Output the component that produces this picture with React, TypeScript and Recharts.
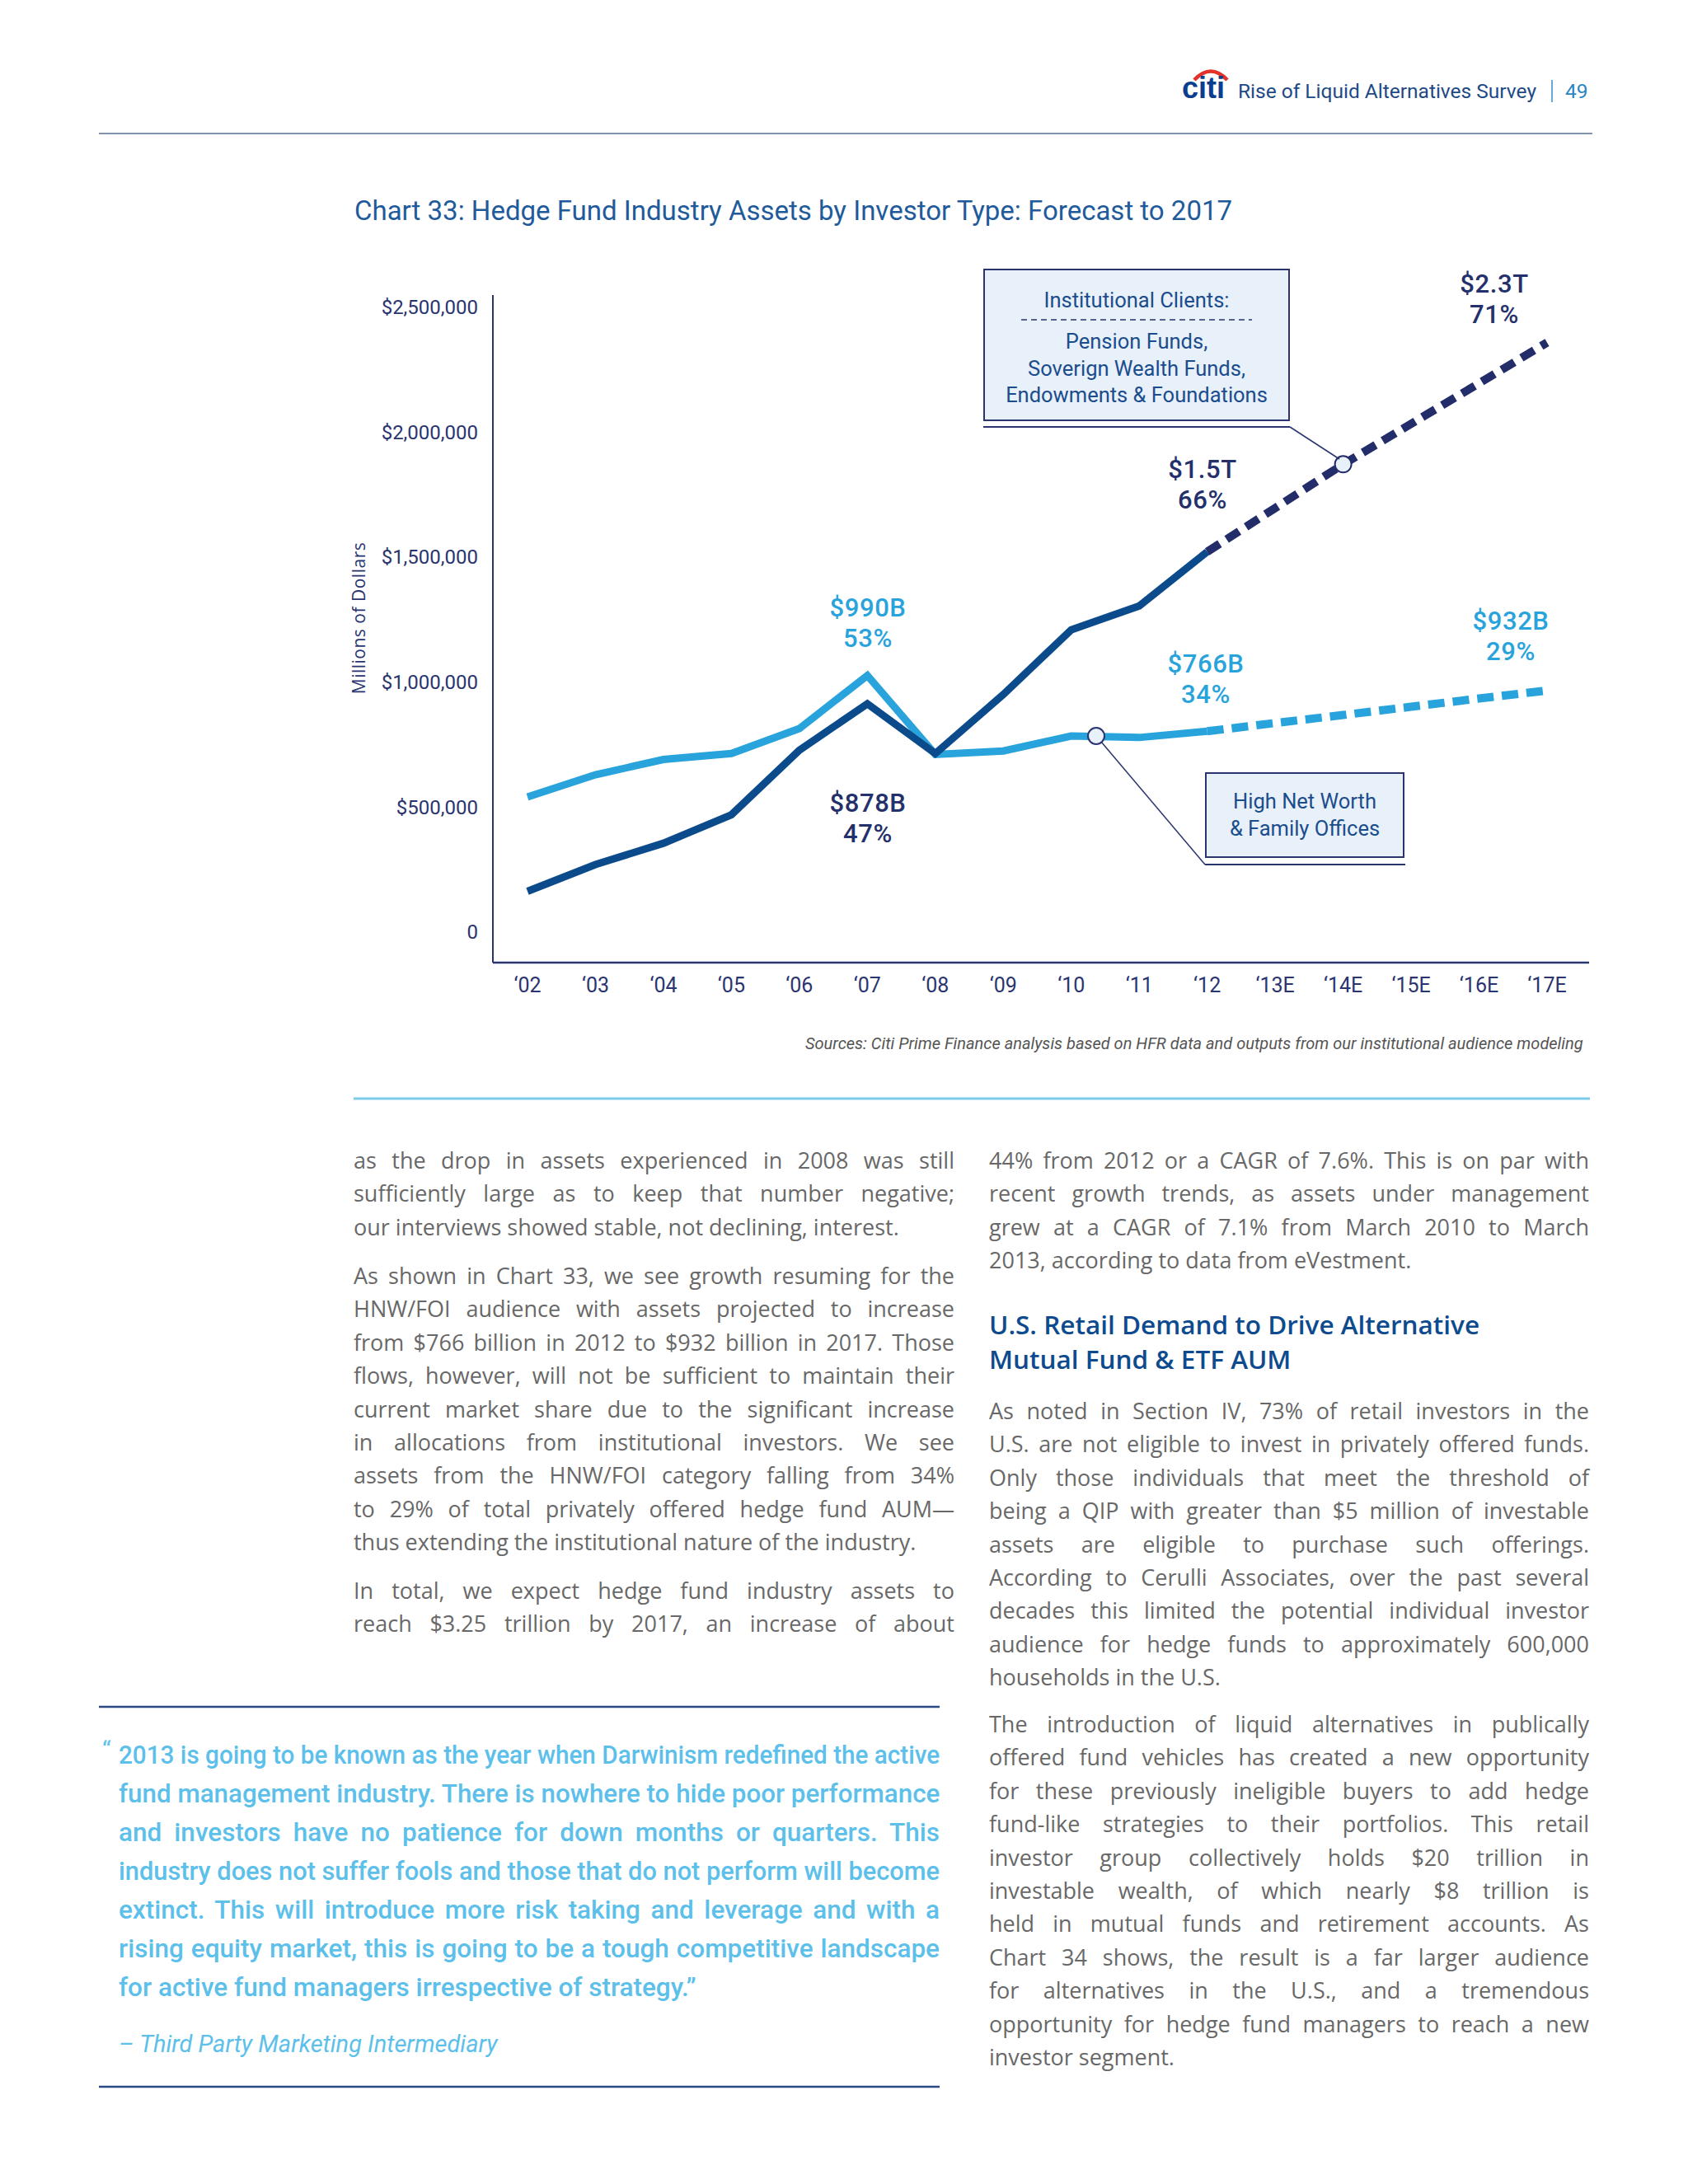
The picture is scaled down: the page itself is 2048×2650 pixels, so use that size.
import React, { useLayoutEffect, useRef } from "react";
import { LineChart, Line, XAxis, YAxis, ReferenceDot } from "recharts";

// chart data
const years = ["‘02", "‘03", "‘04", "‘05", "‘06", "‘07", "‘08", "‘09", "‘10", "‘11", "‘12", "‘13E", "‘14E", "‘15E", "‘16E", "‘17E"];
const institutional = [162500, 270000, 355000, 469000, 727000, 913000, 714000, 950000, 1209000, 1304000, 1521000];
const institutionalForecast = [1521000, 1696000, 1871000, 2033000, 2195000, 2358000];
const hnwFamily = [540000, 629000, 690000, 714000, 814000, 1026000, 710000, 724000, 784000, 778000, 803000];
const hnwForecast = [803000, 836000, 868000, 901000, 934000, 966000];
const yTicks = [0, 500000, 1000000, 1500000, 2000000, 2500000];
const lastActual = institutional.length - 1;

const data = years.map((year, i) => ({
  year,
  inst: i <= lastActual ? institutional[i] : null,
  instF: i >= lastActual ? institutionalForecast[i - lastActual] : null,
  hnw: i <= lastActual ? hnwFamily[i] : null,
  hnwF: i >= lastActual ? hnwForecast[i - lastActual] : null,
}));

const NAVY = "#24306b";
const AXIS = "#2a3570";
const DARK_LINE = "#0b4b8c";
const DASH_DARK = "#222d6a";
const LIGHT = "#29a3dc";
const BODY = "#686868";
const QUOTE = "#5cc0ea";
const FONT = "Roboto, 'Noto Sans', sans-serif";
const WIDE = "'Open Sans', 'Noto Sans', sans-serif";

// body copy, line by line as set in the page
const leftCol = [
  { y: 1408, lines: [
    "as the drop in assets experienced in 2008 was still",
    "sufficiently large as to keep that number negative;",
    "our interviews showed stable, not declining, interest.",
  ], lastJustified: false },
  { y: 1548, lines: [
    "As shown in Chart 33, we see growth resuming for the",
    "HNW/FOI audience with assets projected to increase",
    "from $766 billion in 2012 to $932 billion in 2017. Those",
    "flows, however, will not be sufficient to maintain their",
    "current market share due to the significant increase",
    "in allocations from institutional investors. We see",
    "assets from the HNW/FOI category falling from 34%",
    "to 29% of total privately offered hedge fund AUM—",
    "thus extending the institutional nature of the industry.",
  ], lastJustified: false },
  { y: 1930, lines: [
    "In total, we expect hedge fund industry assets to",
    "reach $3.25 trillion by 2017, an increase of about",
  ], lastJustified: true },
];

const rightCol = [
  { y: 1408, lines: [
    "44% from 2012 or a CAGR of 7.6%. This is on par with",
    "recent growth trends, as assets under management",
    "grew at a CAGR of 7.1% from March 2010 to March",
    "2013, according to data from eVestment.",
  ], lastJustified: false },
  { y: 1712, lines: [
    "As noted in Section IV, 73% of retail investors in the",
    "U.S. are not eligible to invest in privately offered funds.",
    "Only those individuals that meet the threshold of",
    "being a QIP with greater than $5 million of investable",
    "assets are eligible to purchase such offerings.",
    "According to Cerulli Associates, over the past several",
    "decades this limited the potential individual investor",
    "audience for hedge funds to approximately 600,000",
    "households in the U.S.",
  ], lastJustified: false },
  { y: 2092, lines: [
    "The introduction of liquid alternatives in publically",
    "offered fund vehicles has created a new opportunity",
    "for these previously ineligible buyers to add hedge",
    "fund-like strategies to their portfolios. This retail",
    "investor group collectively holds $20 trillion in",
    "investable wealth, of which nearly $8 trillion is",
    "held in mutual funds and retirement accounts. As",
    "Chart 34 shows, the result is a far larger audience",
    "for alternatives in the U.S., and a tremendous",
    "opportunity for hedge fund managers to reach a new",
    "investor segment.",
  ], lastJustified: false },
];

const heading = ["U.S. Retail Demand to Drive Alternative", "Mutual Fund & ETF AUM"];

const quoteLines = [
  "2013 is going to be known as the year when Darwinism redefined the active",
  "fund management industry. There is nowhere to hide poor performance",
  "and investors have no patience for down months or quarters. This",
  "industry does not suffer fools and those that do not perform will become",
  "extinct. This will introduce more risk taking and leverage and with a",
  "rising equity market, this is going to be a tough competitive landscape",
  "for active fund managers irrespective of strategy.”",
];

function TextLine({ text, left, top, width, justify, style }: any) {
  const ref = useRef<HTMLDivElement>(null);
  useLayoutEffect(() => {
    const el = ref.current;
    if (!el) return;
    const natural = el.scrollWidth;
    if (natural > width + 0.5) {
      el.style.textAlignLast = "left";
      el.style.textAlign = "left";
      el.style.width = natural + "px";
      el.style.transform = `scaleX(${width / natural})`;
    }
  }, [width]);
  return (
    <div
      ref={ref}
      style={{
        position: "absolute",
        left,
        top,
        width,
        whiteSpace: "nowrap",
        textAlign: justify ? "justify" : "left",
        textAlignLast: justify ? "justify" : "left",
        transformOrigin: "0 0",
        ...style,
      }}
    >
      {text}
    </div>
  );
}

function Column({ paras, left, width }: any) {
  const out: any[] = [];
  paras.forEach((p: any, pi: number) => {
    p.lines.forEach((t: string, li: number) => {
      const last = li === p.lines.length - 1;
      out.push(
        <TextLine
          key={pi + "-" + li}
          text={t}
          left={left}
          top={p.y + li * 40.4 - 20}
          width={width}
          justify={!last || p.lastJustified}
          style={{ fontFamily: WIDE, fontSize: 27, lineHeight: "40px", color: BODY }}
        />
      );
    });
  });
  return <>{out}</>;
}

// two-line value note: amount over share; y is the centre of the first line
function Note({ x, y, value, share, color }: any) {
  return (
    <div
      style={{
        position: "absolute",
        left: x - 100,
        top: y - 18.5,
        width: 200,
        textAlign: "center",
        fontFamily: FONT,
        fontWeight: 500,
        fontSize: 31,
        letterSpacing: 0.6,
        lineHeight: "37px",
        color,
      }}
    >
      {value}
      <br />
      {share}
    </div>
  );
}

function Callout({ left, top, width, height, children }: any) {
  return (
    <div
      style={{
        position: "absolute",
        left,
        top,
        width,
        height,
        boxSizing: "border-box",
        border: `2px solid ${AXIS}`,
        background: "#e8f0fa",
        fontFamily: FONT,
        fontSize: 25.5,
        color: "#1b4d8c",
        textAlign: "center",
      }}
    >
      {children}
    </div>
  );
}

function App() {
  return (
    <div style={{ position: "absolute", left: 0, top: 0, width: 2048, height: 2650, background: "#ffffff", overflow: "hidden" }}>
      {/* header */}
      <svg style={{ position: "absolute", left: 0, top: 0 }} width={2048} height={200}>
        <path d="M1449 97 Q1469 76 1489 97" fill="none" stroke="#e2332b" strokeWidth={4.5} />
        <text x={1434} y={119} fontFamily="'Liberation Sans', Arial, sans-serif" fontWeight={700} fontSize={36} fill="#0b3e8f">citi</text>
        <text x={1502} y={119} fontFamily={FONT} fontSize={24.5} fill="#1d4a86">Rise of Liquid Alternatives Survey</text>
        <line x1={1883} y1={97} x2={1883} y2={124} stroke="#3a8cc8" strokeWidth={1.5} />
        <text x={1899} y={119} fontFamily={FONT} fontSize={24.5} fill="#2a86c3">49</text>
        <line x1={120} y1={162} x2={1932} y2={162} stroke="#7f93ad" strokeWidth={2} />
      </svg>

      {/* chart title */}
      <div style={{ position: "absolute", left: 430, top: 236, fontFamily: FONT, fontSize: 33, color: "#1f5b9b", whiteSpace: "nowrap" }}>
        Chart 33: Hedge Fund Industry Assets by Investor Type: Forecast to 2017
      </div>

      {/* chart */}
      <div style={{ position: "absolute", left: 400, top: 300, width: 1560, height: 960 }}>
        <LineChart width={1560} height={960} data={data} margin={{ top: 58, right: 32, bottom: 0, left: 0 }}>
          <XAxis
            dataKey="year"
            padding={{ left: 42, right: 51 }}
            axisLine={{ stroke: AXIS, strokeWidth: 2.5 }}
            tickLine={false}
            tickMargin={12}
            interval={0}
            height={92}
            tick={{ fill: AXIS, fontSize: 25, fontFamily: FONT }}
          />
          <YAxis
            type="number"
            domain={[-122500, 2548000]}
            ticks={yTicks}
            allowDataOverflow
            width={198}
            axisLine={{ stroke: AXIS, strokeWidth: 2 }}
            tickLine={false}
            tickMargin={12}
            tick={{ fill: AXIS, fontSize: 24, fontFamily: FONT }}
            tickFormatter={(v: number) => (v === 0 ? "0" : "$" + v.toLocaleString("en-US"))}
          />
          <Line dataKey="hnw" stroke={LIGHT} strokeWidth={9} dot={false} activeDot={false} isAnimationActive={false} />
          <Line dataKey="hnwF" stroke={LIGHT} strokeWidth={10} strokeDasharray="20 10" dot={false} activeDot={false} isAnimationActive={false} />
          <Line dataKey="inst" stroke={DARK_LINE} strokeWidth={9} dot={false} activeDot={false} isAnimationActive={false} />
          <Line dataKey="instF" stroke={DASH_DARK} strokeWidth={10} strokeDasharray="18 10" dot={false} activeDot={false} isAnimationActive={false} />
          <ReferenceDot x="‘14E" y={institutionalForecast[2]} r={10} fill="#e8f0fa" stroke={DASH_DARK} strokeWidth={2} />
        </LineChart>
      </div>

      {/* axis title, leader lines, markers */}
      <svg style={{ position: "absolute", left: 0, top: 0 }} width={2048} height={1400}>
        <text
          x={443}
          y={750}
          transform="rotate(-90 443 750)"
          textAnchor="middle"
          fontFamily={WIDE}
          fontSize={21}
          letterSpacing={0.5}
          fill={AXIS}
        >
          Millions of Dollars
        </text>
        <line x1={1193} y1={518} x2={1565} y2={518} stroke={AXIS} strokeWidth={2} />
        <line x1={1565} y1={518} x2={1625} y2={557} stroke={AXIS} strokeWidth={1.5} />
        <line x1={1462} y1={1049} x2={1705} y2={1049} stroke={AXIS} strokeWidth={2} />
        <line x1={1462} y1={1049} x2={1336} y2={900} stroke={AXIS} strokeWidth={1.5} />
        <circle cx={1330} cy={893} r={10} fill="#e8f0fa" stroke={AXIS} strokeWidth={2} />
        <line x1={429} y1={1333} x2={1929} y2={1333} stroke="#7dcbeb" strokeWidth={3} />
      </svg>

      <Callout left={1193} top={326} width={372} height={185}>
        <div style={{ marginTop: 20, lineHeight: "32px" }}>Institutional Clients:</div>
        <svg width={280} height={12} style={{ display: "block", margin: "2px auto 4px" }}>
          <line x1={0} y1={6} x2={280} y2={6} stroke={AXIS} strokeWidth={1.5} strokeDasharray="7 5" />
        </svg>
        <div style={{ lineHeight: "32.5px" }}>
          Pension Funds,
          <br />
          Soverign Wealth Funds,
          <br />
          Endowments &amp; Foundations
        </div>
      </Callout>
      <Callout left={1462} top={937} width={242} height={104}>
        <div style={{ marginTop: 17, lineHeight: "33px" }}>
          High Net Worth
          <br />
          &amp; Family Offices
        </div>
      </Callout>

      {/* value notes */}
      <Note x={1813} y={344} value="$2.3T" share="71%" color={NAVY} />
      <Note x={1459} y={569} value="$1.5T" share="66%" color={NAVY} />
      <Note x={1053} y={737} value="$990B" share="53%" color={LIGHT} />
      <Note x={1053} y={974} value="$878B" share="47%" color={NAVY} />
      <Note x={1463} y={805} value="$766B" share="34%" color={LIGHT} />
      <Note x={1833} y={753} value="$932B" share="29%" color={LIGHT} />

      {/* sources */}
      <div
        style={{
          position: "absolute",
          left: 977,
          top: 1254,
          width: 952,
          overflow: "hidden",
          whiteSpace: "nowrap",
          fontFamily: FONT,
          fontStyle: "italic",
          fontSize: 20,
          color: "#555555",
        }}
      >
        Sources: Citi Prime Finance analysis based on HFR data and outputs from our institutional audience modeling
      </div>

      {/* body text */}
      <Column paras={leftCol} left={429} width={729} />
      <Column paras={rightCol} left={1200} width={728} />
      {heading.map((t, i) => (
        <div
          key={t}
          style={{
            position: "absolute",
            left: 1200,
            top: 1607 + i * 42 - 21,
            fontFamily: WIDE,
            fontWeight: 600,
            fontSize: 31.5,
            lineHeight: "42px",
            color: "#0d4a8e",
            whiteSpace: "nowrap",
          }}
        >
          {t}
        </div>
      ))}

      {/* quote */}
      <svg style={{ position: "absolute", left: 0, top: 2000 }} width={2048} height={600}>
        <line x1={120} y1={71} x2={1140} y2={71} stroke="#2b4a85" strokeWidth={2.5} />
        <line x1={120} y1={532} x2={1140} y2={532} stroke="#2b4a85" strokeWidth={2.5} />
      </svg>
      <div style={{ position: "absolute", left: 124, top: 2106, fontFamily: FONT, fontSize: 30, color: QUOTE }}>“</div>
      {quoteLines.map((t, i) => (
        <TextLine
          key={i}
          text={t}
          left={144}
          top={2130 + i * 47 - 23}
          width={996}
          justify={i < quoteLines.length - 1}
          style={{ fontFamily: FONT, fontWeight: 500, fontSize: 31.5, lineHeight: "46px", color: QUOTE }}
        />
      ))}
      <div
        style={{
          position: "absolute",
          left: 144,
          top: 2480 - 20,
          fontFamily: FONT,
          fontStyle: "italic",
          fontSize: 29,
          lineHeight: "40px",
          color: QUOTE,
          whiteSpace: "nowrap",
        }}
      >
        – Third Party Marketing Intermediary
      </div>
    </div>
  );
}

export default App;
